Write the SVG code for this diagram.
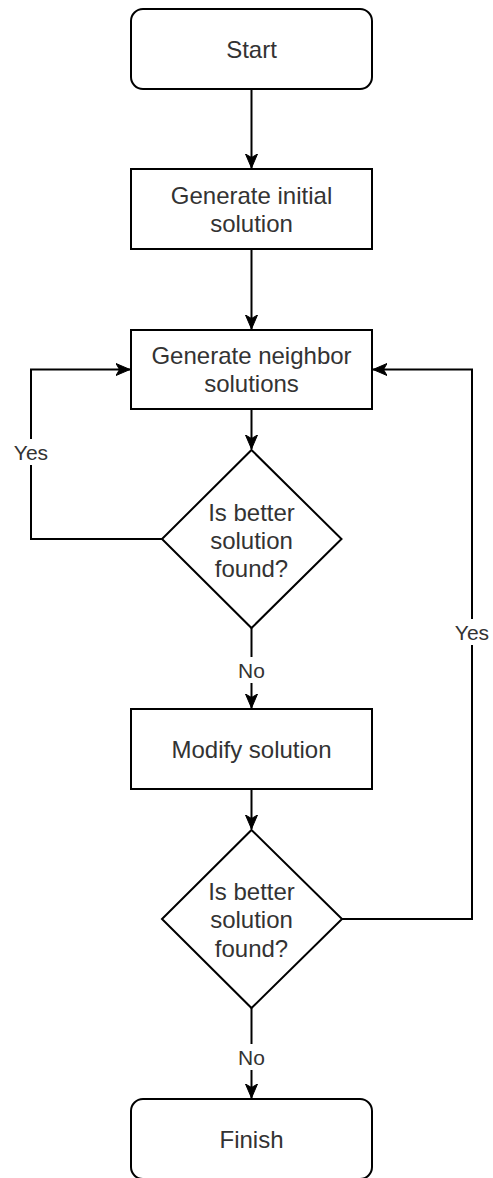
<svg xmlns="http://www.w3.org/2000/svg" width="493" height="1178" viewBox="0 0 493 1178">
  <style>
    .box { fill: #ffffff; stroke: #000000; stroke-width: 2; }
    .edge { fill: none; stroke: #000000; stroke-width: 2; }
    .txt { font-family: "Liberation Sans", Arial, sans-serif; font-size: 24px; fill: #333333; text-anchor: middle; }
    .lbl { font-family: "Liberation Sans", Arial, sans-serif; font-size: 21px; fill: #333333; text-anchor: middle; }
    .lblbg { fill: #ffffff; stroke: none; }
  </style>
  <defs>
    <marker id="arrow" markerUnits="userSpaceOnUse" viewBox="0 0 14 14" refX="14" refY="7" markerWidth="14" markerHeight="14" orient="auto">
      <path d="M0,1 L14,7 L0,13 L3.5,7 Z" fill="#000000" stroke="#000000" stroke-width="1"/>
    </marker>
  </defs>
  <rect width="493" height="1178" fill="#ffffff"/>

  <!-- connectors -->
  <g id="connectors">
    <path class="edge" d="M251.5,89 L251.5,168" marker-end="url(#arrow)"/>
    <path class="edge" d="M251.5,249 L251.5,329" marker-end="url(#arrow)"/>
    <path class="edge" d="M251.5,409 L251.5,449" marker-end="url(#arrow)"/>
    <path class="edge" d="M251.5,628 L251.5,708" marker-end="url(#arrow)"/>
    <path class="edge" d="M251.5,789 L251.5,829" marker-end="url(#arrow)"/>
    <path class="edge" d="M251.5,1008 L251.5,1098" marker-end="url(#arrow)"/>
    <path class="edge" d="M162,539 L31,539 L31,369.5 L130,369.5" marker-end="url(#arrow)"/>
    <path class="edge" d="M342,919 L472,919 L472,369.5 L373,369.5" marker-end="url(#arrow)"/>
    <!-- edge labels -->
    <rect class="lblbg" x="232" y="657" width="40" height="26"/>
    <text class="lbl" x="251.5" y="677.5">No</text>
    <rect class="lblbg" x="232" y="1044" width="40" height="26"/>
    <text class="lbl" x="251.5" y="1064.5">No</text>
    <rect class="lblbg" x="10" y="439" width="42" height="26"/>
    <text class="lbl" x="31" y="459.5">Yes</text>
    <rect class="lblbg" x="451" y="619" width="42" height="26"/>
    <text class="lbl" x="472" y="639.5">Yes</text>
  </g>

  <g id="start">
    <rect class="box" x="131" y="9" width="241" height="80" rx="12" ry="12"/>
    <text class="txt" x="251.5" y="57.5">Start</text>
  </g>

  <g id="generate-initial">
    <rect class="box" x="131" y="169" width="241" height="80"/>
    <text class="txt" x="251.5" y="203.5">Generate initial</text>
    <text class="txt" x="251.5" y="231.5">solution</text>
  </g>

  <g id="generate-neighbor">
    <rect class="box" x="131" y="330" width="241" height="79"/>
    <text class="txt" x="251.5" y="364">Generate neighbor</text>
    <text class="txt" x="251.5" y="392">solutions</text>
  </g>

  <g id="decision-1">
    <polygon class="box" points="251.5,450 341.5,539 251.5,628 162,539"/>
    <text class="txt" x="251.5" y="521">Is better</text>
    <text class="txt" x="251.5" y="549">solution</text>
    <text class="txt" x="251.5" y="577">found?</text>
  </g>

  <g id="modify">
    <rect class="box" x="131" y="709" width="241" height="80"/>
    <text class="txt" x="251.5" y="757.5">Modify solution</text>
  </g>

  <g id="decision-2">
    <polygon class="box" points="251.5,830 342,919 251.5,1008 162,919"/>
    <text class="txt" x="251.5" y="900">Is better</text>
    <text class="txt" x="251.5" y="928">solution</text>
    <text class="txt" x="251.5" y="956.5">found?</text>
  </g>

  <g id="finish">
    <rect class="box" x="131" y="1099" width="241" height="80" rx="12" ry="12"/>
    <text class="txt" x="251.5" y="1148">Finish</text>
  </g>
</svg>
